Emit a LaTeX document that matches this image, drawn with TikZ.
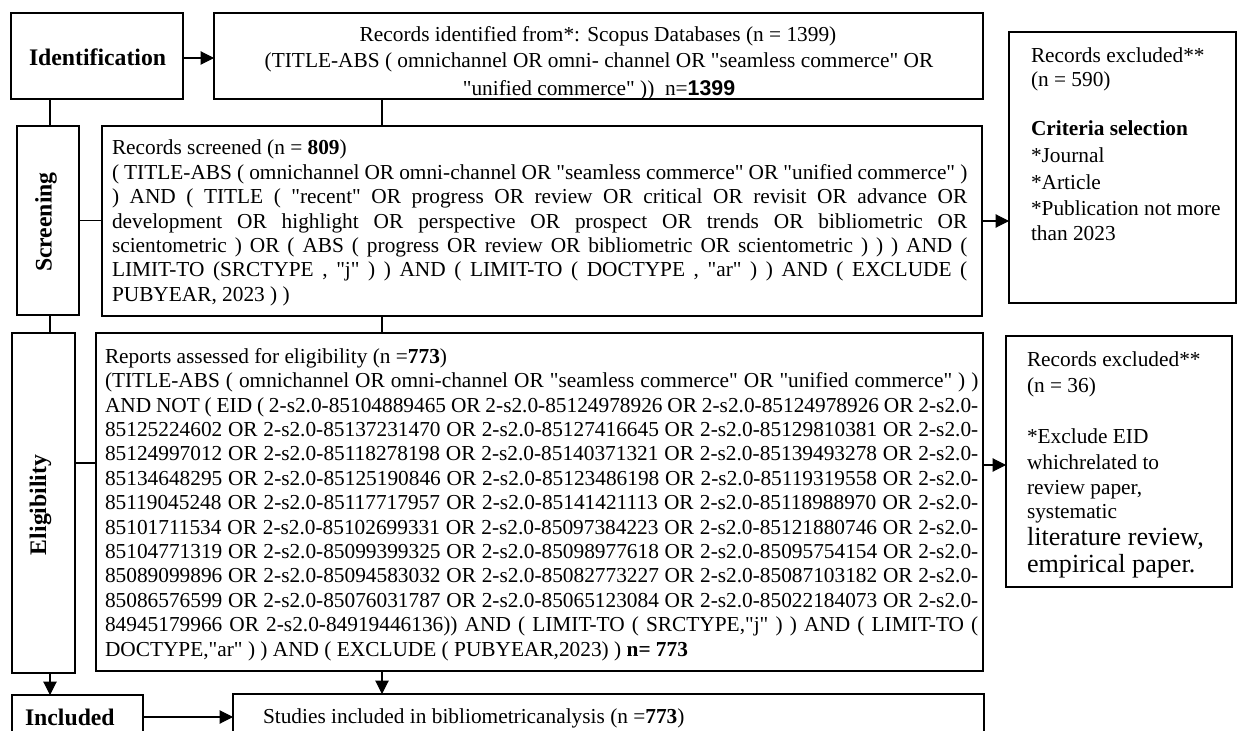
\documentclass[tikz,border=0pt]{standalone}
\usepackage{fontspec}
\setmainfont{Liberation Serif}[Ligatures=TeXOff]
\newfontfamily\sansf{Liberation Sans}[Ligatures=TeXOff]
\usetikzlibrary{arrows.meta,fit,calc}
\newcommand\jline[1]{\makebox[\linewidth][s]{\strut #1}\par}
\newcommand\lline[1]{\strut #1\par}
\begin{document}
\begin{tikzpicture}[x=0.75pt,y=-0.75pt,
  every node/.style={inner sep=0pt,outer sep=0pt},
  mainbox/.style={draw,line width=1.6pt,fit={#1}},
  lblbox/.style={draw,line width=1.1pt,fit={#1}},
  rbox/.style={draw,line width=1.3pt,fit={#1}},
  txt/.style={font=\fontsize{16}{18.3}\selectfont,anchor=base west},
  bigtxt/.style={font=\fontsize{19.6}{23}\selectfont,anchor=base west,text height=12pt,text depth=3pt},
  lbl/.style={font=\fontsize{17.8}{20}\selectfont\bfseries,anchor=base west},
  para/.style={font=\fontsize{16}{18.3}\selectfont,anchor=north west,align=justify},
  ln/.style={line width=0.8pt},
  arr/.style={line width=0.8pt,-{Triangle[length=10pt,width=10pt]}}]
\useasboundingbox (0,0) rectangle (1239,731);
\clip (0,0) rectangle (1239,731);

% boxes
\node[lblbox={(11,13)(183,99)}] (ident) {};
\node[mainbox={(214,13)(983,99)}] (top) {};
\node[rbox={(1009,32)(1236,303)}] (rb1) {};
\node[lblbox={(17,126)(79,315)}] (scrL) {};
\node[mainbox={(102,126)(982,316)}] (scrB) {};
\node[lblbox={(12,333)(75,673)}] (eliL) {};
\node[mainbox={(96,333)(983,671)}] (eliB) {};
\node[mainbox={(1006,336)(1232,587)}] (rb2) {};
\node[lblbox={(12,695)(143,760)}] (incl) {};
\node[mainbox={(233,694)(984,760)}] (stud) {};

% labels
\node[lbl] (identT) at (29,66) {Identification};
\node[lbl,rotate=90] (scrT) at (51.5,272) {Screening};
\node[lbl,rotate=90] (eliT) at (46,555) {Eligibility};
\node[lbl] (inclT) at (25,725) {Included};

% top box text (clipped)
\begin{scope}
\clip (top.north west) rectangle (top.south east);
\node[txt,anchor=base] (t1) at (598,41.5) {Records identified from*: Scopus Databases (n = 1399)};
\node[txt,anchor=base] (t2) at (599,67.5) {(TITLE-ABS ( omnichannel OR omni- channel OR "seamless commerce" OR};
\node[txt,anchor=base] (t3) at (599,95.5) {"unified commerce" ))\ \ n={\sansf\bfseries 1399}};
\end{scope}

% screening text
\node[para,text width=641.5pt] (scrP) at (112,137.9) {%
\lline{Records screened (n = \textbf{809})}
\jline{( TITLE-ABS ( omnichannel OR omni-channel OR "seamless commerce" OR "unified commerce" )}
\jline{) AND ( TITLE ( "recent" OR progress OR review OR critical OR revisit OR advance OR}
\jline{development OR highlight OR perspective OR prospect OR trends OR bibliometric OR}
\jline{scientometric ) OR ( ABS ( progress OR review OR bibliometric OR scientometric ) ) ) AND (}
\jline{LIMIT-TO (SRCTYPE , "j" ) ) AND ( LIMIT-TO ( DOCTYPE , "ar" ) ) AND ( EXCLUDE (}
\lline{PUBYEAR, 2023 ) )}};

% eligibility text
\node[para,text width=655pt] (eliP) at (105,346.2) {%
\lline{Reports assessed for eligibility (n =\textbf{773})}
\jline{(TITLE-ABS ( omnichannel OR omni-channel OR "seamless commerce" OR "unified commerce" ) )}
\jline{AND NOT ( EID ( 2-s2.0-85104889465 OR 2-s2.0-85124978926 OR 2-s2.0-85124978926 OR 2-s2.0-}
\jline{85125224602 OR 2-s2.0-85137231470 OR 2-s2.0-85127416645 OR 2-s2.0-85129810381 OR 2-s2.0-}
\jline{85124997012 OR 2-s2.0-85118278198 OR 2-s2.0-85140371321 OR 2-s2.0-85139493278 OR 2-s2.0-}
\jline{85134648295 OR 2-s2.0-85125190846 OR 2-s2.0-85123486198 OR 2-s2.0-85119319558 OR 2-s2.0-}
\jline{85119045248 OR 2-s2.0-85117717957 OR 2-s2.0-85141421113 OR 2-s2.0-85118988970 OR 2-s2.0-}
\jline{85101711534 OR 2-s2.0-85102699331 OR 2-s2.0-85097384223 OR 2-s2.0-85121880746 OR 2-s2.0-}
\jline{85104771319 OR 2-s2.0-85099399325 OR 2-s2.0-85098977618 OR 2-s2.0-85095754154 OR 2-s2.0-}
\jline{85089099896 OR 2-s2.0-85094583032 OR 2-s2.0-85082773227 OR 2-s2.0-85087103182 OR 2-s2.0-}
\jline{85086576599 OR 2-s2.0-85076031787 OR 2-s2.0-85065123084 OR 2-s2.0-85022184073 OR 2-s2.0-}
\jline{84945179966 OR 2-s2.0-84919446136)) AND ( LIMIT-TO ( SRCTYPE,"j" ) ) AND ( LIMIT-TO (}
\lline{DOCTYPE,"ar" ) ) AND ( EXCLUDE ( PUBYEAR,2023) ) \textbf{n= 773}}};

% right box 1
\node[txt] (r1a) at (1031,62.7) {Records excluded**};
\node[txt] (r1b) at (1031,86.7) {(n = 590)};
\node[txt] (r1c) at (1031,136) {\textbf{Criteria selection}};
\node[txt] (r1d) at (1031,162.7) {*Journal};
\node[txt] (r1e) at (1031,190) {*Article};
\node[txt] (r1f) at (1031,215) {*Publication not more};
\node[txt] (r1g) at (1031,240) {than 2023};

% right box 2
\node[txt] (r2a) at (1027,366) {Records excluded**};
\node[txt] (r2b) at (1027,392) {(n = 36)};
\node[txt] (r2c) at (1027,443.3) {*Exclude EID};
\node[txt] (r2d) at (1027,469) {whichrelated to};
\node[txt] (r2e) at (1027,494) {review paper,};
\node[txt] (r2f) at (1027,518) {systematic};
\node[bigtxt] (r2g) at (1027,545) {literature review,};
\node[bigtxt] (r2h) at (1027,572) {empirical paper.};

% bottom
\node[txt] (studT) at (263,723) {Studies included in bibliometricanalysis (n =\textbf{773})};

% connectors
\coordinate (spine) at (382,0);
\coordinate (lspine) at (50,0);
\coordinate (eliY) at (0,463);
\coordinate (rb2Y) at (0,465);
\coordinate (inclY) at (0,717);
\coordinate (idY) at (0,58);
\draw[arr] (ident.east |- idY) -- (top.west |- idY);
\draw[ln] (ident.south -| lspine) -- (scrL.north -| lspine);
\draw[ln] (top.south -| spine) -- (scrB.north -| spine);
\draw[ln] (scrL.east) -- (scrL.east -| scrB.west);
\draw[arr] (scrB.east) -- (scrB.east -| rb1.west);
\draw[ln] (scrL.south -| lspine) -- (eliL.north -| lspine);
\draw[ln] (scrB.south -| spine) -- (eliB.north -| spine);
\draw[ln] (eliL.east |- eliY) -- (eliB.west |- eliY);
\draw[arr] (eliB.east |- rb2Y) -- (rb2.west |- rb2Y);
\draw[arr] (eliL.south -| lspine) -- (incl.north -| lspine);
\draw[arr] (eliB.south -| spine) -- (stud.north -| spine);
\draw[arr] (incl.east |- inclY) -- (stud.west |- inclY);
\end{tikzpicture}
\end{document}
